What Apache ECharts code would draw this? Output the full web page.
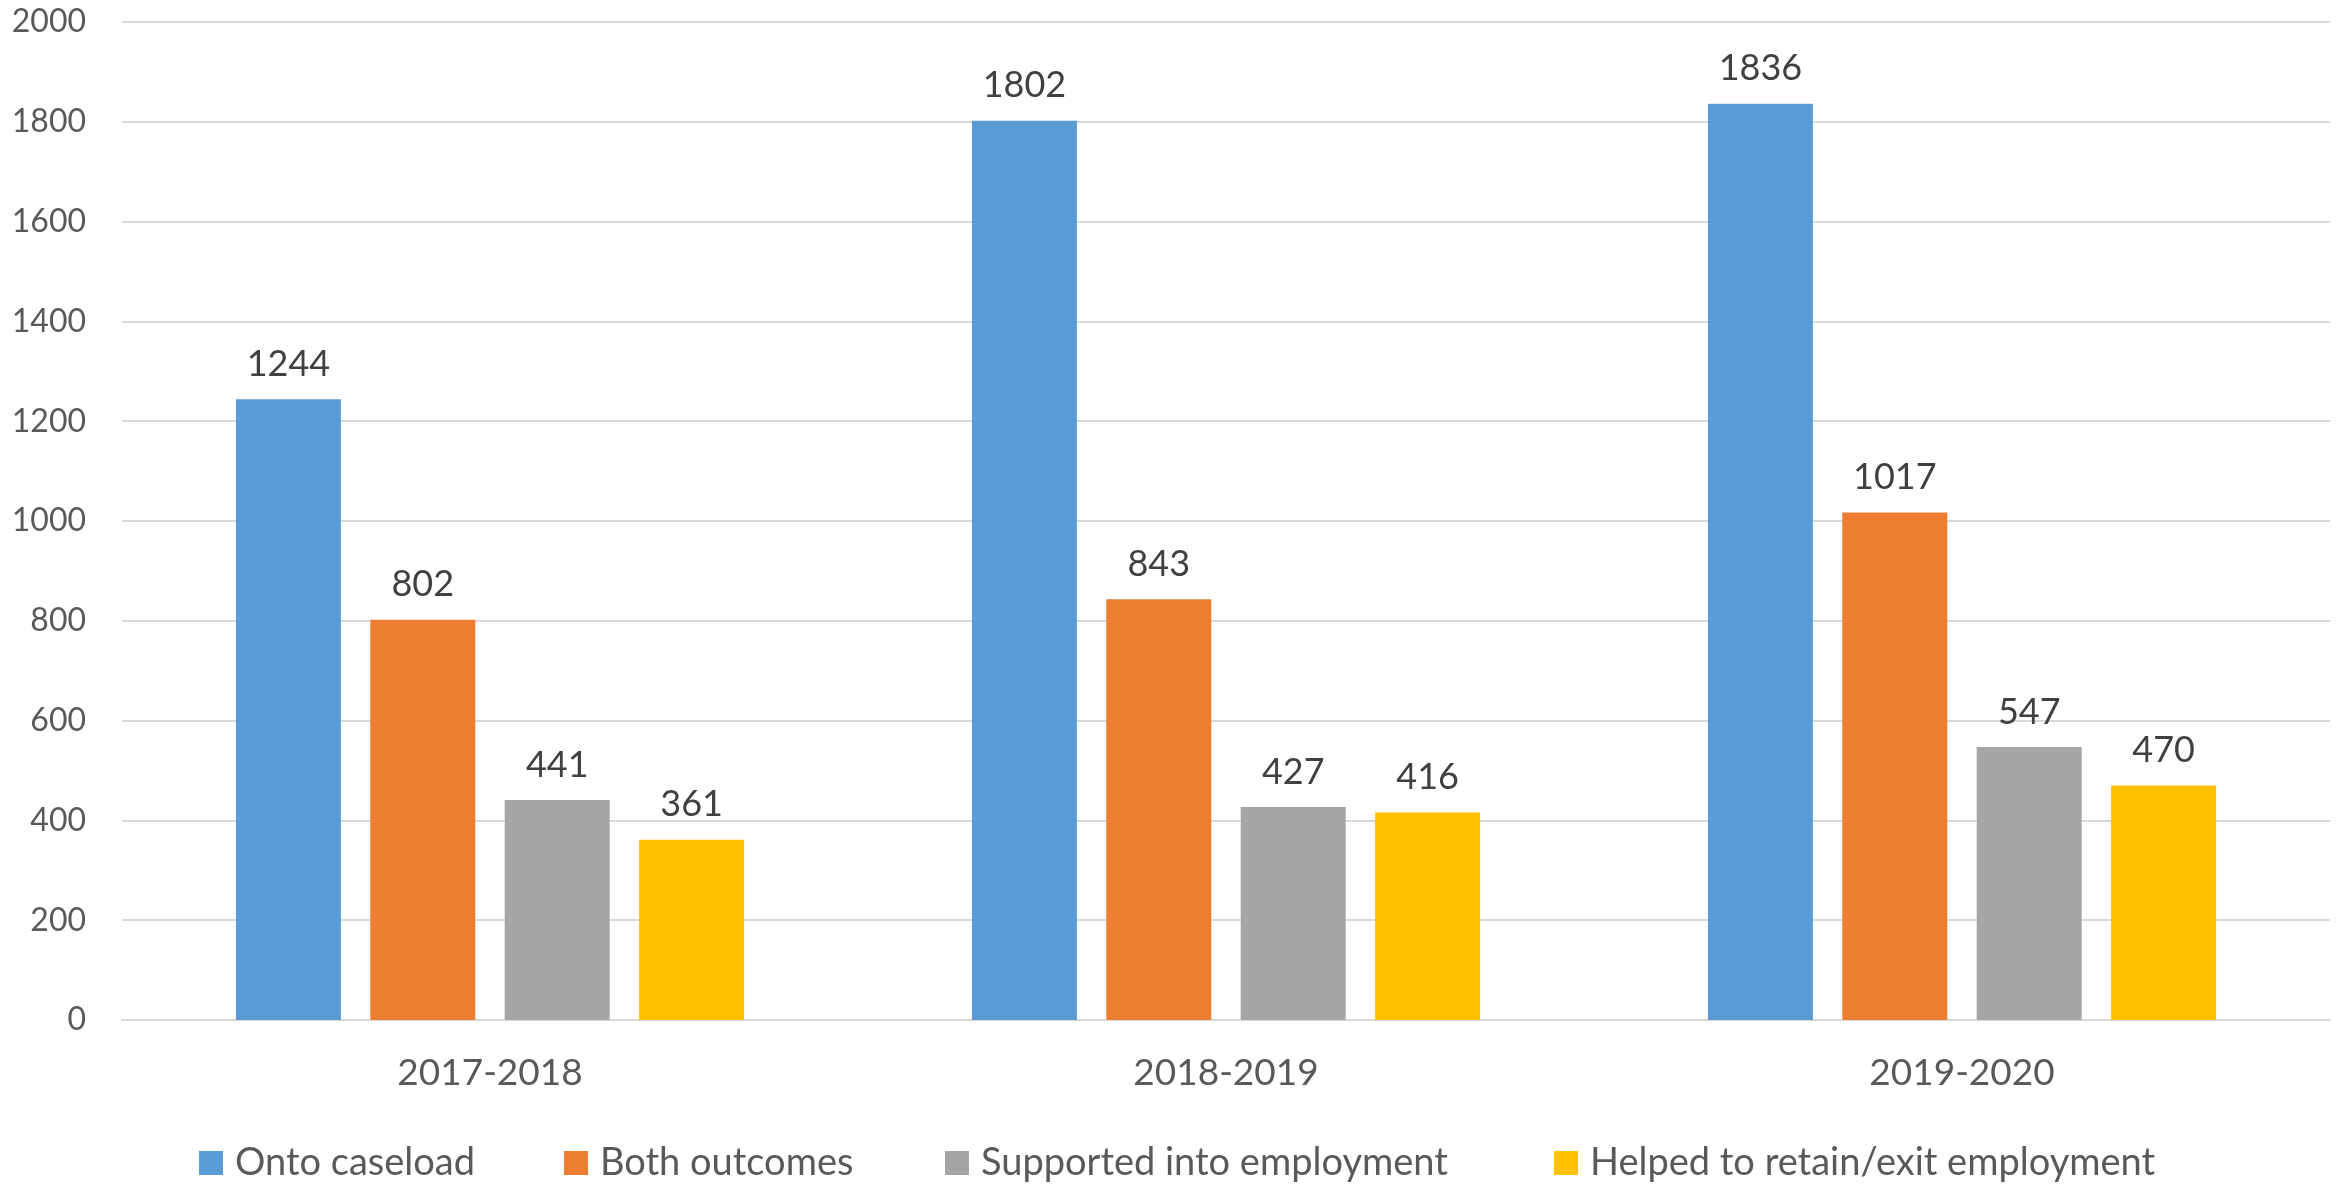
<!DOCTYPE html>
<html>
<head>
<meta charset="utf-8">
<script src="https://cdn.jsdelivr.net/npm/echarts@6/dist/echarts.min.js"></script>
<style>html,body{margin:0;padding:0;background:#fff;}#c{width:2343px;height:1187px;}</style>
</head>
<body>
<div id="c"></div>
<script>
const categories = ['2017-2018', '2018-2019', '2019-2020'];
const seriesNames = ['Onto caseload', 'Both outcomes', 'Supported into employment', 'Helped to retain/exit employment'];
const ontoCaseload = [1244, 1802, 1836];
const bothOutcomes = [802, 843, 1017];
const supportedIntoEmployment = [441, 427, 547];
const helpedToRetain = [361, 416, 470];
const yTicks = { min: 0, max: 2000, interval: 200 };

const colors = ['#5B9BD5', '#ED7D31', '#A5A5A5', '#FFC000'];
const values = [ontoCaseload, bothOutcomes, supportedIntoEmployment, helpedToRetain];
const FONT = 'Lato';
const legendLeft = [194, 559, 940, 1549];

const chart = echarts.init(document.getElementById('c'));
chart.setOption({
  animation: false,
  backgroundColor: '#ffffff',
  color: colors,
  textStyle: { fontFamily: FONT },
  grid: { left: 122, right: 13, top: 22, bottom: 167, containLabel: false },
  legend: seriesNames.map((n, i) => ({
    data: [n],
    left: legendLeft[i],
    top: 1137,
    icon: 'rect',
    itemWidth: 24,
    itemHeight: 24,
    itemGap: 12,
    selectedMode: false,
    textStyle: { fontFamily: FONT, fontSize: 38, color: '#595959', lineHeight: 42, padding: [0, 0, 0, 7] }
  })),
  xAxis: {
    type: 'category',
    data: categories,
    axisLine: { show: true, lineStyle: { color: '#d9d9d9', width: 2 } },
    axisTick: { show: false },
    axisLabel: { fontFamily: FONT, fontSize: 37, color: '#595959', margin: 35 },
    splitLine: { show: false }
  },
  yAxis: {
    type: 'value',
    min: yTicks.min,
    max: yTicks.max,
    interval: yTicks.interval,
    axisLine: { show: false },
    axisTick: { show: false },
    axisLabel: { fontFamily: FONT, fontSize: 32, color: '#595959', margin: 36, formatter: v => String(v) },
    splitLine: { show: true, lineStyle: { color: '#d9d9d9', width: 2 } }
  },
  series: seriesNames.map((n, i) => ({
    name: n,
    type: 'bar',
    data: values[i],
    barWidth: 105,
    barGap: '28%',
    itemStyle: { color: colors[i] },
    label: {
      show: true,
      position: 'top',
      distance: 17,
      fontFamily: FONT,
      fontSize: 36,
      color: '#404040'
    }
  }))
});
</script>
</body>
</html>
